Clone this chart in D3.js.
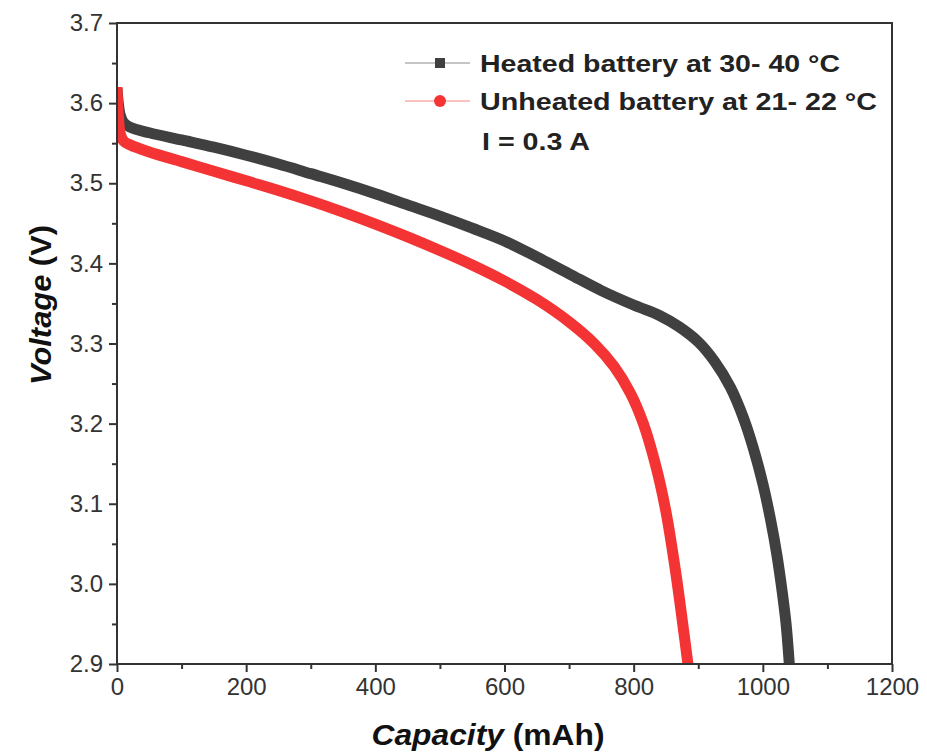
<!DOCTYPE html>
<html>
<head>
<meta charset="utf-8">
<script src="https://cdn.jsdelivr.net/npm/d3@7"></script>
<style>
  html, body { margin: 0; padding: 0; background: #fff; }
  svg { display: block; font-family: "Liberation Sans", Arial, sans-serif; }
</style>
</head>
<body>
<svg id="chart" width="927" height="753"></svg>
<script>
// ---- Data ----
const heatedCapacity = [0, 2, 5, 10, 20, 50, 100, 150, 200, 250, 300, 350, 400, 450, 500, 550, 600, 650, 700, 750, 800, 840, 870, 900, 925, 950, 970, 985, 1000, 1012, 1022, 1030, 1036, 1041];
const heatedVoltage  = [3.618, 3.600, 3.585, 3.576, 3.570, 3.563, 3.554, 3.545, 3.535, 3.524, 3.512, 3.500, 3.487, 3.473, 3.459, 3.444, 3.428, 3.408, 3.387, 3.366, 3.348, 3.335, 3.321, 3.302, 3.278, 3.245, 3.207, 3.170, 3.125, 3.080, 3.035, 2.990, 2.950, 2.900];

const unheatedCapacity = [0, 2, 5, 10, 20, 50, 100, 150, 200, 250, 300, 350, 400, 450, 500, 550, 600, 650, 700, 740, 770, 795, 815, 835, 850, 865, 876, 884];
const unheatedVoltage  = [3.620, 3.585, 3.562, 3.553, 3.548, 3.539, 3.527, 3.515, 3.503, 3.491, 3.478, 3.464, 3.449, 3.433, 3.416, 3.398, 3.378, 3.355, 3.327, 3.299, 3.271, 3.238, 3.200, 3.145, 3.090, 3.015, 2.950, 2.900];

const xTicks = [0, 200, 400, 600, 800, 1000, 1200];
const yTicks = [2.9, 3.0, 3.1, 3.2, 3.3, 3.4, 3.5, 3.6, 3.7];
const seriesNames = ["Heated battery at 30- 40 °C", "Unheated battery at 21- 22 °C"];
const seriesColors = ["#404040", "#f43434"];
const noteText = "I = 0.3 A";

// ---- Layout ----
const svg = d3.select("#chart");
const margin = { left: 117, top: 23, right: 35, bottom: 89 };
const W = 927, H = 753;
const x = d3.scaleLinear().domain([0, 1200]).range([margin.left, W - margin.right]);
const y = d3.scaleLinear().domain([2.9, 3.7]).range([H - margin.bottom, margin.top]);

const axisColor = "#333";

// Curves
const line = d3.line().x(d => x(d[0])).y(d => y(d[1])).curve(d3.curveCatmullRom.alpha(0.5));
const heated = heatedCapacity.map((c, i) => [c, heatedVoltage[i]]);
const unheated = unheatedCapacity.map((c, i) => [c, unheatedVoltage[i]]);

svg.append("clipPath").attr("id", "clip").append("rect")
  .attr("x", x(0)).attr("y", y(3.7)).attr("width", x(1200) - x(0)).attr("height", y(2.9) - y(3.7));

const plot = svg.append("g").attr("clip-path", "url(#clip)");
plot.append("path").datum(heated).attr("d", line)
  .attr("fill", "none").attr("stroke", seriesColors[0]).attr("stroke-width", 11)
  .attr("stroke-linejoin", "round").attr("stroke-linecap", "butt");
plot.append("path").datum(unheated).attr("d", line)
  .attr("fill", "none").attr("stroke", seriesColors[1]).attr("stroke-width", 11)
  .attr("stroke-linejoin", "round").attr("stroke-linecap", "butt");

// Axes
const xAxis = d3.axisBottom(x).tickValues(xTicks).tickFormat(d3.format("d")).tickSize(8).tickPadding(6);
const xMinor = d3.axisBottom(x).tickValues(d3.range(100, 1200, 200)).tickFormat("").tickSize(5);
const yAxis = d3.axisLeft(y).tickValues(yTicks).tickFormat(d3.format(".1f")).tickSize(8).tickPadding(6);
const yMinor = d3.axisLeft(y).tickValues(d3.range(2.95, 3.7, 0.1)).tickFormat("").tickSize(5);

function styleAxis(g) {
  g.select(".domain").remove();
  g.selectAll(".tick line").attr("stroke", axisColor).attr("stroke-width", 2);
  g.selectAll(".tick text").attr("fill", "#333").style("font-size", "24px")
    .style("font-family", "'Liberation Sans', Arial, sans-serif");
}

svg.append("g").attr("transform", `translate(0,${y(2.9)})`).call(xAxis).call(styleAxis);
svg.append("g").attr("transform", `translate(0,${y(2.9)})`).call(xMinor).call(styleAxis);
svg.append("g").attr("transform", `translate(${x(0)},0)`).call(yAxis).call(styleAxis);
svg.append("g").attr("transform", `translate(${x(0)},0)`).call(yMinor).call(styleAxis);

// Frame
svg.append("rect").attr("x", x(0)).attr("y", y(3.7))
  .attr("width", x(1200) - x(0)).attr("height", y(2.9) - y(3.7))
  .attr("fill", "none").attr("stroke", axisColor).attr("stroke-width", 2);

// Axis titles
const xt = svg.append("text").attr("x", 488).attr("y", 745)
  .attr("text-anchor", "middle").attr("textLength", 233).attr("lengthAdjust", "spacingAndGlyphs")
  .style("font-size", "29px").style("font-weight", "bold").attr("fill", "#111");
xt.append("tspan").style("font-style", "italic").text("Capacity");
xt.append("tspan").text(" (mAh)");

const yt = svg.append("text").attr("transform", `translate(51,305) rotate(-90)`)
  .attr("text-anchor", "middle").attr("textLength", 160).attr("lengthAdjust", "spacingAndGlyphs")
  .style("font-size", "29px").style("font-weight", "bold").attr("fill", "#111");
yt.append("tspan").style("font-style", "italic").text("Voltage");
yt.append("tspan").text(" (V)");

// Legend
const leg = svg.append("g");
const legY = [63, 101];
const legLen = [360, 397];
seriesNames.forEach((name, i) => {
  leg.append("line").attr("x1", 405).attr("x2", 470).attr("y1", legY[i]).attr("y2", legY[i])
    .attr("stroke", seriesColors[i]).attr("stroke-width", 1).attr("opacity", 0.6);
  if (i === 0) {
    leg.append("rect").attr("x", 435).attr("y", legY[i] - 5).attr("width", 10).attr("height", 10).attr("fill", seriesColors[i]);
  } else {
    leg.append("circle").attr("cx", 440).attr("cy", legY[i]).attr("r", 6).attr("fill", seriesColors[i]);
  }
  leg.append("text").attr("x", 480).attr("y", legY[i] + 9)
    .attr("textLength", legLen[i]).attr("lengthAdjust", "spacingAndGlyphs")
    .style("font-size", "24px").style("font-weight", "bold")
    .attr("fill", "#222").text(name);
});
leg.append("text").attr("x", 482).attr("y", 150)
  .attr("textLength", 108).attr("lengthAdjust", "spacingAndGlyphs")
  .style("font-size", "24px").style("font-weight", "bold")
  .attr("fill", "#222").text(noteText);
</script>
</body>
</html>
